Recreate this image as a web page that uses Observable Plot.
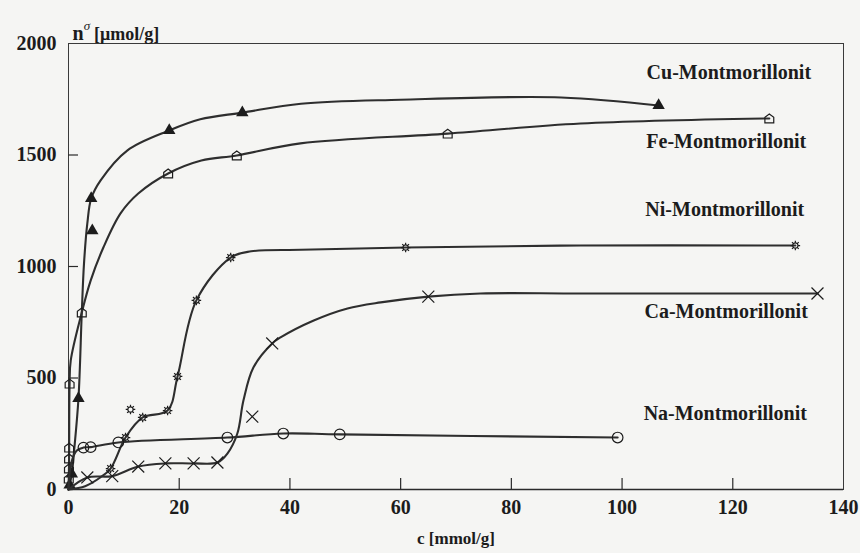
<!DOCTYPE html>
<html>
<head>
<meta charset="utf-8">
<script src="https://cdn.jsdelivr.net/npm/d3@7"></script>
<script src="https://cdn.jsdelivr.net/npm/@observablehq/plot@0.6"></script>
<style>
  html, body { margin: 0; padding: 0; background: #f5f5f3; }
  #chart { width: 860px; height: 553px; }
</style>
</head>
<body>
<div id="chart"></div>
<script>
// ---- data ----
const xTicks = [0, 20, 40, 60, 80, 100, 120, 140];
const yTicks = [0, 500, 1000, 1500, 2000];
const innerXTicks = [20, 40, 60, 80, 100, 120];
const innerYTicks = [500, 1000, 1500];
const xTitle = "c [mmol/g]";
const yTitleMain = "n";
const yTitleSup = "σ";
const yTitleUnit = "[μmol/g]";
const seriesNames = ["Cu-Montmorillonit", "Fe-Montmorillonit", "Ni-Montmorillonit", "Ca-Montmorillonit", "Na-Montmorillonit"];

// [c, n, kind]  kind: "m" marker on curve, "c" curve point only, "o" marker off the curve
const cuData = [
  [0, 0, "c"], [0.2, 20, "m"], [0.6, 70, "m"], [1.0, 170, "c"], [1.8, 408, "m"], [2.4, 794, "c"],
  [2.8, 1013, "c"], [3.4, 1193, "c"], [4.1, 1305, "m"], [4.3, 1161, "o"], [5.8, 1386, "c"],
  [10.6, 1520, "c"], [18.2, 1610, "m"], [23.8, 1660, "c"], [31.4, 1690, "m"], [42, 1730, "c"],
  [60, 1748, "c"], [89, 1758, "c"], [106.6, 1722, "m"]
];
const feData = [
  [0, 0, "c"], [0.05, 49, "m"], [0.08, 94, "m"], [0.1, 139, "m"], [0.12, 188, "m"], [0.2, 475, "m"],
  [0.4, 578, "c"], [2.4, 794, "m"], [4.0, 937, "c"], [6.3, 1085, "c"], [9.4, 1238, "c"],
  [12.6, 1327, "c"], [18, 1417, "m"], [24, 1475, "c"], [30.4, 1498, "m"], [41.9, 1552, "c"],
  [68.5, 1596, "m"], [92.5, 1641, "c"], [126.6, 1664, "m"]
];
const niData = [
  [0, 0, "c"], [3, 15, "c"], [5.8, 55, "c"], [7.6, 94, "m"], [10.3, 233, "m"], [11.2, 359, "o"],
  [13.4, 323, "m"], [17.9, 354, "m"], [19.7, 507, "m"], [23.1, 848, "m"], [29.3, 1040, "m"],
  [33, 1068, "c"], [42, 1075, "c"], [60.9, 1085, "m"], [92.5, 1094, "c"], [131.3, 1094, "m"]
];
const caData = [
  [0, 0, "c"], [3.4, 54, "m"], [7.9, 60, "m"], [12.6, 103, "m"], [17.5, 117, "m"], [22.6, 117, "m"],
  [26.9, 121, "m"], [28.7, 161, "c"], [30.5, 251, "c"], [31.6, 399, "c"], [33.2, 327, "o"],
  [33.4, 547, "c"], [36.8, 655, "m"], [38.3, 682, "c"], [44.3, 758, "c"], [50.4, 812, "c"],
  [56.4, 839, "c"], [65, 865, "m"], [74.4, 879, "c"], [92.5, 879, "c"], [135.3, 879, "m"]
];
const naData = [
  [0, 0, "c"], [0.5, 120, "c"], [1.5, 175, "c"], [2.7, 188, "m"], [4.0, 190, "m"], [9, 211, "m"],
  [28.7, 233, "m"], [38.8, 251, "m"], [49, 247, "m"], [99.2, 233, "m"]
];

// ---- styles ----
const ink = "#1c1c1c";
const lineInk = "#2e2e2e";
const font = "'Liberation Serif', 'Times New Roman', serif";

const houseSymbol = {
  draw(ctx, size) {
    const s = Math.sqrt(size) / 2;
    ctx.moveTo(-s, s); ctx.lineTo(s, s); ctx.lineTo(s, -s * 0.25);
    ctx.lineTo(0, -s); ctx.lineTo(-s, -s * 0.25); ctx.closePath();
  }
};
const sunSymbol = {
  draw(ctx, size) {
    const s = Math.sqrt(size) / 2;
    const rc = s * 0.55, rs = s;
    ctx.moveTo(rc, 0); ctx.arc(0, 0, rc, 0, 2 * Math.PI);
    for (let i = 0; i < 8; i++) {
      const a = i * Math.PI / 4;
      ctx.moveTo(Math.cos(a) * rc, Math.sin(a) * rc);
      ctx.lineTo(Math.cos(a) * rs, Math.sin(a) * rs);
    }
  }
};

const series = [
  {name: seriesNames[0], rows: cuData, symbol: "triangle", r: 4.6, fill: ink, stroke: "none", dx: -12, dy: -33},
  {name: seriesNames[1], rows: feData, symbol: houseSymbol, r: 5, fill: "none", stroke: ink, dx: -123, dy: 23},
  {name: seriesNames[2], rows: niData, symbol: sunSymbol, r: 5.4, fill: "none", stroke: ink, dx: -150, dy: -36},
  {name: seriesNames[3], rows: caData, symbol: "times", r: 5.5, fill: "none", stroke: ink, dx: -173, dy: 18},
  {name: seriesNames[4], rows: naData, symbol: "circle", r: 5.3, fill: "none", stroke: ink, dx: 26, dy: -24}
];

const W = 860, H = 553, mL = 68, mR = 17, mT = 43, mB = 64;
const innerW = W - mL - mR, innerH = H - mT - mB;
const yTitleFull = yTitleMain + yTitleSup + " " + yTitleUnit;

const marks = [
  Plot.frame({stroke: "#3a3a3a", strokeWidth: 1}),
  Plot.ruleY([yTicks[0]], {y: d => d, stroke: "#2a2a2a", strokeWidth: 1.6}),
  Plot.ruleX(innerXTicks, {x: d => d, insetTop: innerH - 11, stroke: "#2a2a2a", strokeWidth: 1.2}),
  Plot.ruleY(innerYTicks, {y: d => d, insetRight: innerW - 10, stroke: "#2a2a2a", strokeWidth: 1.2}),
  Plot.text(xTicks, {x: d => d, text: d => String(d), frameAnchor: "bottom", dy: 24, fontSize: 20, fontWeight: "bold", fill: ink}),
  Plot.text(yTicks, {y: d => d, text: d => String(d), frameAnchor: "left", textAnchor: "end", dx: -12, fontSize: 20, fontWeight: "bold", fill: ink}),
  Plot.text([xTitle], {text: d => d, frameAnchor: "bottom", dy: 54, fontSize: 17, fontWeight: "bold", fill: ink}),
  Plot.text([yTitleFull], {text: d => d, frameAnchor: "top-left", textAnchor: "start", dx: 4, dy: -16, fontSize: 18, fontWeight: "bold", fill: ink})
];

for (const s of series) {
  const curve = s.rows.filter(d => d[2] !== "o");
  const pts = s.rows.filter(d => d[2] !== "c");
  marks.push(Plot.line(curve, {x: d => d[0], y: d => d[1], curve: "catmull-rom", stroke: lineInk, strokeWidth: 2.1}));
  marks.push(Plot.dot(pts, {x: d => d[0], y: d => d[1], symbol: s.symbol, r: s.r, fill: s.fill, stroke: s.stroke, strokeWidth: 1.2}));
  const last = s.rows[s.rows.length - 1];
  marks.push(Plot.text([last], {x: d => d[0], y: d => d[1], text: () => s.name, textAnchor: "start", dx: s.dx, dy: s.dy, fontSize: 20, fontWeight: "bold", fill: ink}));
}

const chart = Plot.plot({
  width: W, height: H,
  marginLeft: mL, marginRight: mR, marginTop: mT, marginBottom: mB,
  x: {domain: [0, 140], axis: null},
  y: {domain: [0, 2000], axis: null},
  style: {fontFamily: font, background: "#f5f5f3", color: ink, overflow: "visible"},
  marks
});

// turn the y title into n with a raised σ, kept as one text element
d3.select(chart).selectAll("text")
  .filter(function () { return this.textContent === yTitleFull; })
  .each(function () {
    const t = d3.select(this);
    t.text(null);
    t.append("tspan").attr("font-size", 20).text(yTitleMain);
    t.append("tspan").attr("font-size", 13).attr("font-style", "italic").attr("font-weight", "normal")
      .attr("dx", 0).attr("dy", -10).text(yTitleSup);
    t.append("tspan").attr("dx", 4).attr("dy", 10).text(yTitleUnit);
  });

document.getElementById("chart").append(chart);
</script>
</body>
</html>
